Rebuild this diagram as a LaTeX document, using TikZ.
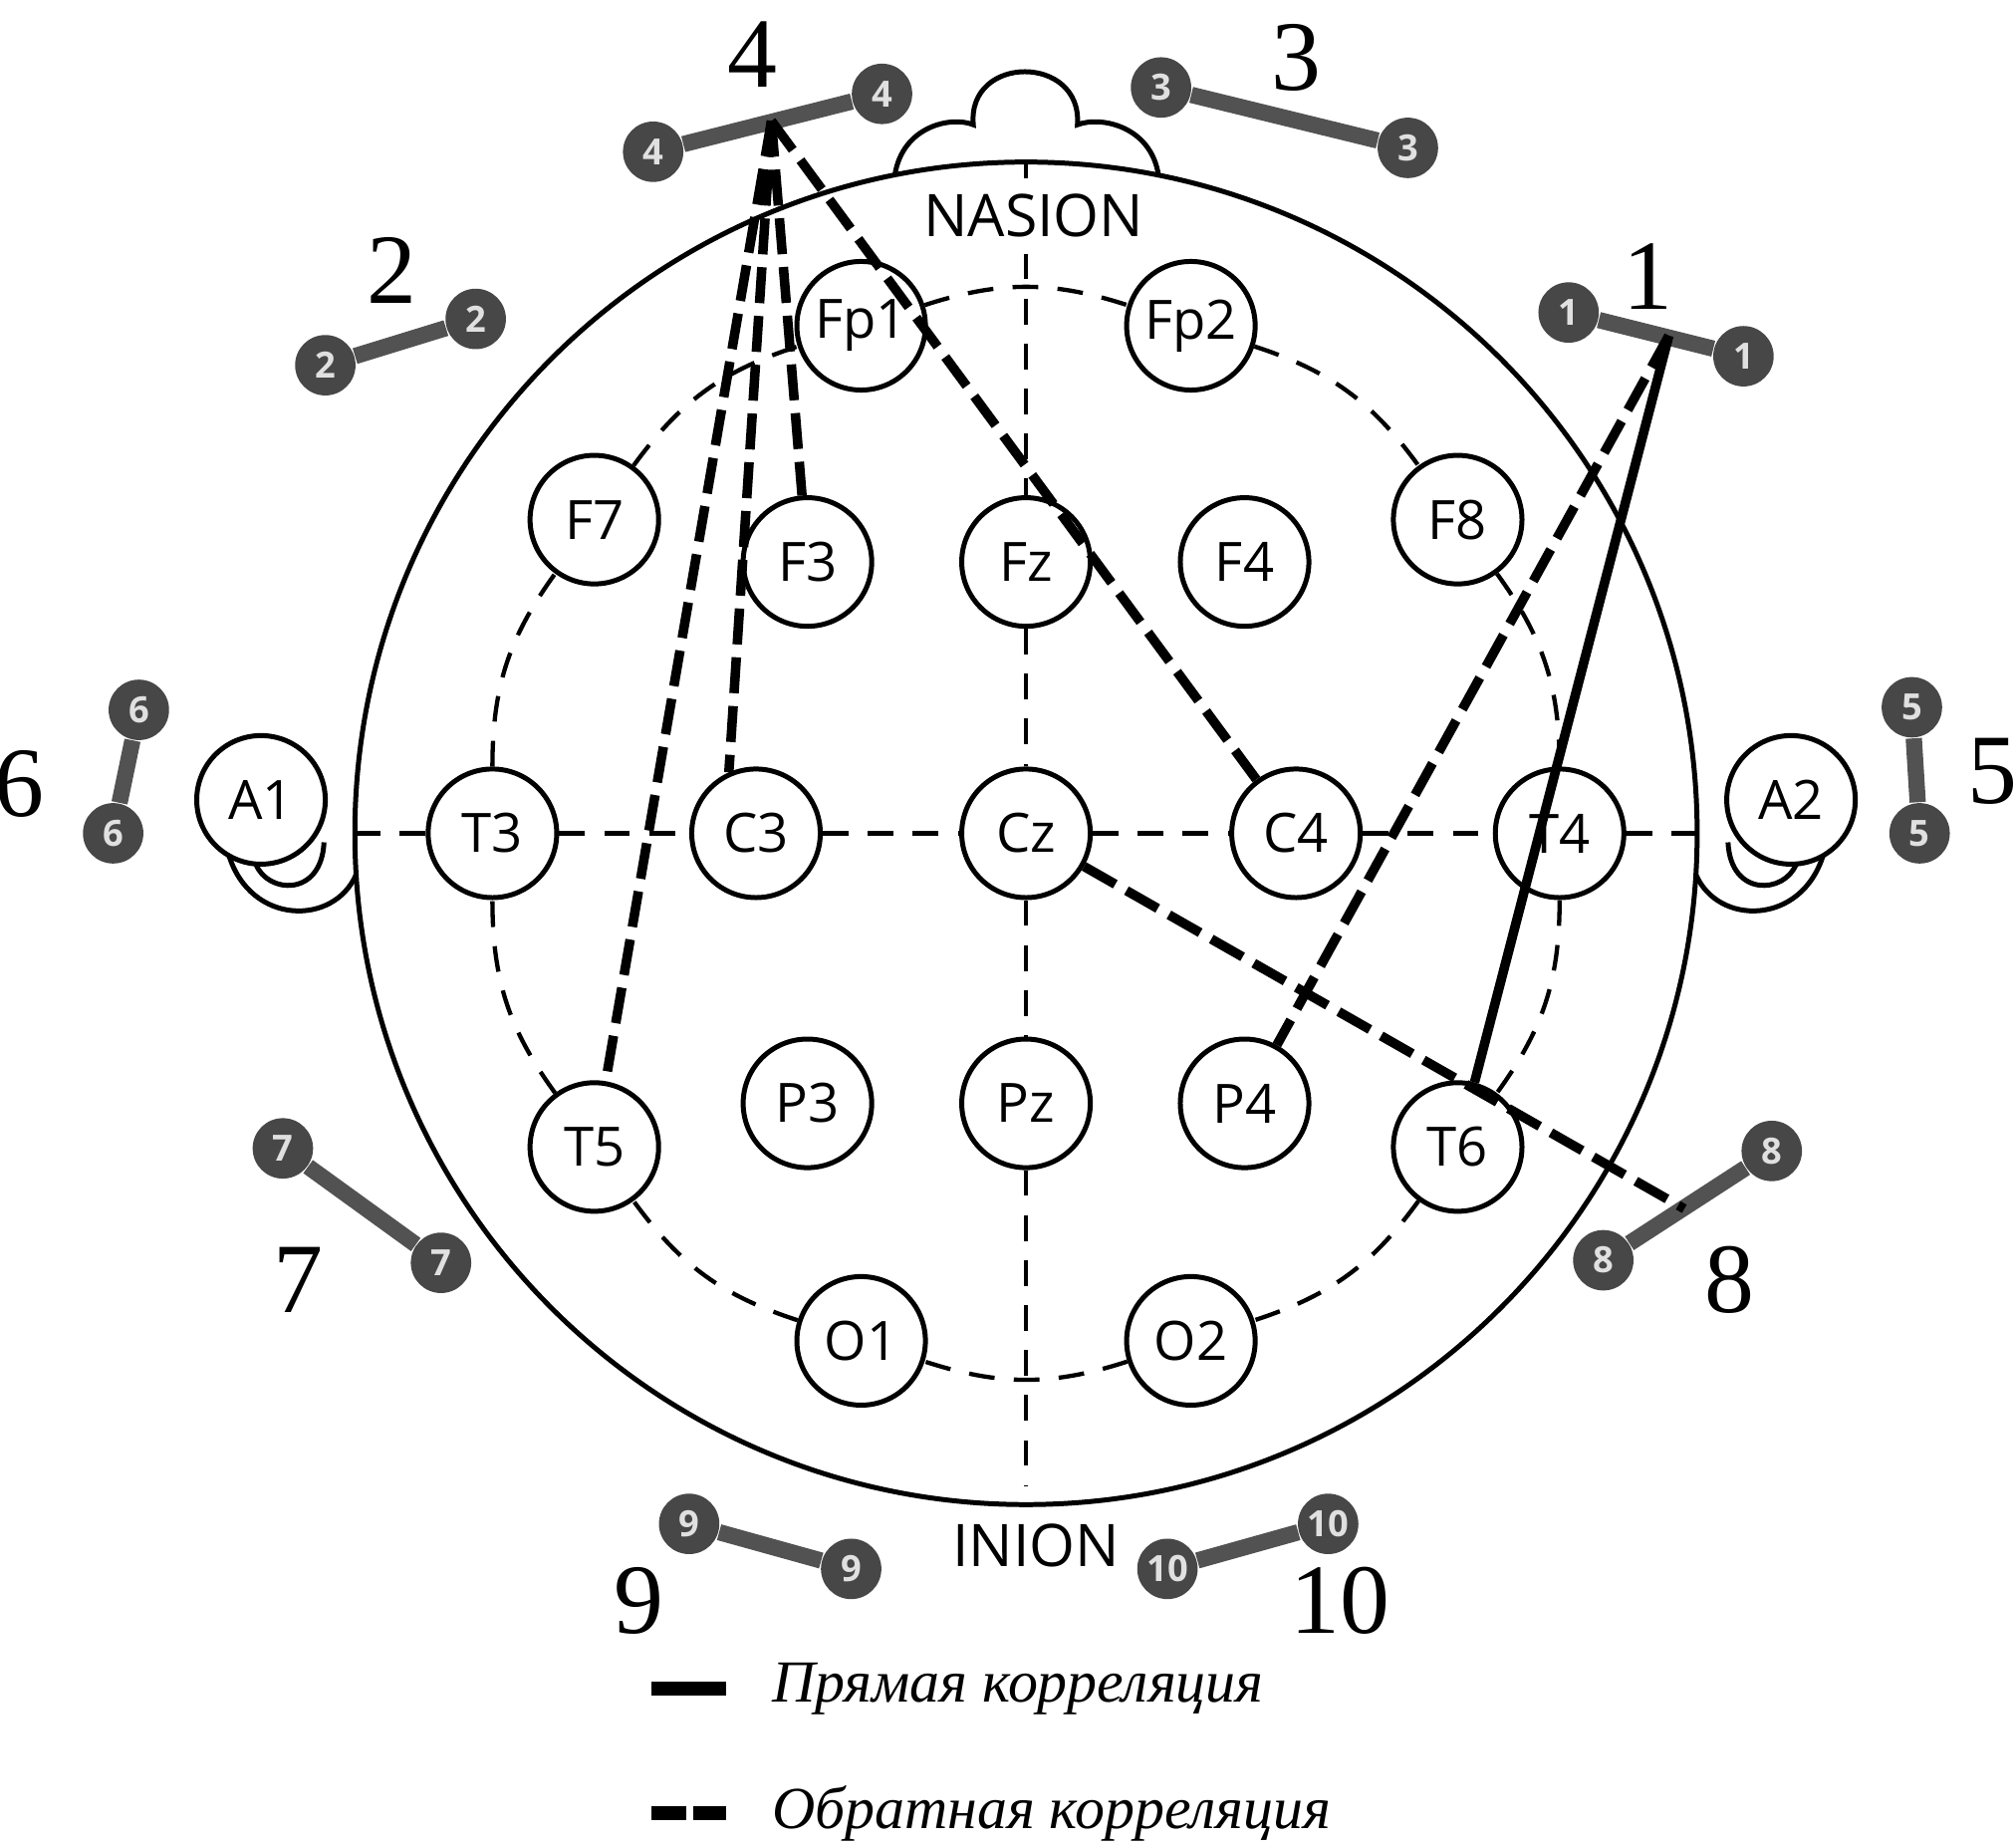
\documentclass[tikz,border=0pt]{standalone}
\usepackage{fontspec}
\setmainfont{Liberation Serif}
\newfontfamily\elfont{Open Sans}
\tikzset{
 electrode/.style={circle, draw, line width=1.1pt, fill=white, minimum size=1cm, inner sep=0pt, font=\elfont\fontsize{12}{12}\selectfont},
 ball/.style={circle, fill=black!72, minimum size=0.47cm, inner sep=0pt, text=white!88!black, font=\elfont\bfseries\fontsize{8}{8}\selectfont},
 bar/.style={line width=3.6pt, black!68},
 num/.style={font=\fontsize{22}{22}\selectfont},
 grid/.style={line width=0.95pt, dash pattern=on 0.2cm off 0.15cm},
 poscorr/.style={line width=2.1pt},
 negcorr/.style={line width=2.1pt, dash pattern=on 0.28cm off 0.1cm},
}
\begin{document}
\begin{tikzpicture}
 \useasboundingbox (0,0) rectangle (15.68,-14.37);
 \coordinate (c) at (7.98,-6.48);
 \draw [line width=1.1pt] (c) circle (5.22);
 \draw [line width=1.1pt] (6.96,-1.36) .. controls (7.02,-0.98) and (7.40,-0.90) .. (7.57,-0.97)
  .. controls (7.52,-0.42) and (8.42,-0.42) .. (8.38,-0.97)
  .. controls (8.56,-0.90) and (8.95,-0.98) .. (9.01,-1.36);
 \draw [line width=1.1pt] (2.77,-6.80) .. controls (2.60,-7.20) and (1.95,-7.20) .. (1.78,-6.65);
 \draw [line width=1.1pt] (1.99,-6.72) .. controls (2.08,-6.95) and (2.50,-6.98) .. (2.52,-6.55);
 \draw [line width=1.1pt] (13.19,-6.80) .. controls (13.36,-7.20) and (14.01,-7.20) .. (14.18,-6.65);
 \draw [line width=1.1pt] (13.97,-6.72) .. controls (13.88,-6.95) and (13.46,-6.98) .. (13.44,-6.55);

 \node[electrode] (Cz) at (c) {Cz};
 \foreach \n/\a in {Fp1/108, Fp2/72, F8/36, T4/0, T6/-36, O2/-72, O1/-108, T5/-144, T3/180, F7/144}
  \node[electrode] (\n) at ([shift={(\a:4.15)}]c) {\n};
 \node[electrode] (F3) at (6.28,-4.37) {F3};
 \node[electrode] (Fz) at (7.98,-4.37) {Fz};
 \node[electrode] (F4) at (9.68,-4.37) {F4};
 \node[electrode] (C3) at (5.88,-6.48) {C3};
 \node[electrode] (C4) at (10.08,-6.48) {C4};
 \node[electrode] (P3) at (6.28,-8.58) {P3};
 \node[electrode] (Pz) at (7.98,-8.58) {Pz};
 \node[electrode] (P4) at (9.68,-8.58) {P4};
 \node[electrode] (A1) at (2.03,-6.22) {A1};
 \node[electrode] (A2) at (13.93,-6.22) {A2};

 \node[font=\elfont\fontsize{13}{13}\selectfont] (nasion) at (8.04,-1.68) {NASION};
 \node[font=\elfont\fontsize{13}{13}\selectfont] (inion) at (8.06,-12.02) {INION};
 \coordinate (nz) at (7.98,-1.26);
 \coordinate (ib) at (7.98,-11.55);
 \coordinate (hl) at (2.76,-6.48);
 \coordinate (hr) at (13.20,-6.48);
 \draw [line width=0.95pt] (nz) -- (nz |- nasion.north);
 \draw [grid] (nasion.south -| Fz) -- (Fz);
 \draw [grid] (Fz) -- (Cz) -- (Pz) -- (ib);
 \draw [grid] (hl) -- (T3) -- (C3) -- (Cz) -- (C4) -- (T4) -- (hr);
 \foreach \a/\b in {Fp1/Fp2, Fp2/F8, F8/T4, T4/T6, T6/O2, O2/O1, O1/T5, T5/T3, T3/F7, F7/Fp1}
  \draw [grid] (\a) to[bend left=18] (\b);

 \foreach \k/\xa/\ya/\xb/\yb in {1/12.20/-2.43/13.56/-2.77, 2/2.53/-2.84/3.70/-2.48,
  3/9.03/-0.68/10.95/-1.15, 4/5.08/-1.18/6.86/-0.73, 5/14.87/-5.50/14.93/-6.48,
  6/1.08/-5.52/0.88/-6.48, 7/2.20/-8.93/3.43/-9.82, 8/12.47/-9.80/13.78/-8.95,
  9/5.36/-11.85/6.62/-12.20, 10/9.08/-12.20/10.33/-11.85}
 {
  \node[ball] (d\k-a) at (\xa,\ya) {\k};
  \node[ball] (d\k-b) at (\xb,\yb) {\k};
  \draw [bar] (d\k-a) -- (d\k-b);
 }
 \node[num] (n1) at (12.82,-2.15) {1};
 \node[num] (n2) at (3.05,-2.10) {2};
 \node[num] (n3) at (10.08,-0.45) {3};
 \node[num] (n4) at (5.85,-0.42) {4};
 \node[num] (n5) at (15.50,-6.00) {5};
 \node[num] (n6) at (0.15,-6.10) {6};
 \node[num] (n7) at (2.32,-9.95) {7};
 \node[num] (n8) at (13.45,-9.95) {8};
 \node[num] (n9) at (4.97,-12.45) {9};
 \node[num] (n10) at (10.42,-12.45) {10};

 \coordinate (s4) at (6.00,-0.94);
 \coordinate (s1) at (12.98,-2.61);
 \coordinate (s8) at (13.10,-9.40);
 \draw [negcorr] (s4) -- (T5);
 \draw [negcorr] (s4) -- (C3.114);
 \draw [negcorr] (s4) -- (F3);
 \draw [negcorr] (s4) -- (C4);
 \draw [poscorr] (s1) -- (T6);
 \draw [negcorr] (s1) -- (P4);
 \draw [negcorr] (Cz) -- (s8);

 \coordinate (l1a) at (5.07,-13.13);
 \coordinate (l1b) at (5.65,-13.13);
 \coordinate (l2a) at (5.07,-14.10);
 \coordinate (l2b) at (5.65,-14.10);
 \draw [line width=3pt] (l1a) -- (l1b);
 \draw [line width=3pt, dash pattern=on 0.27cm off 0.05cm] (l2a) -- (l2b);
 \node[anchor=west, font=\itshape\fontsize{13.2}{13.2}\selectfont] (pr) at (5.88,-13.13) {Прямая корреляция};
 \node[anchor=west, font=\itshape\fontsize{13.2}{13.2}\selectfont] (ob) at (5.88,-14.10) {Обратная корреляция};
\end{tikzpicture}
\end{document}
